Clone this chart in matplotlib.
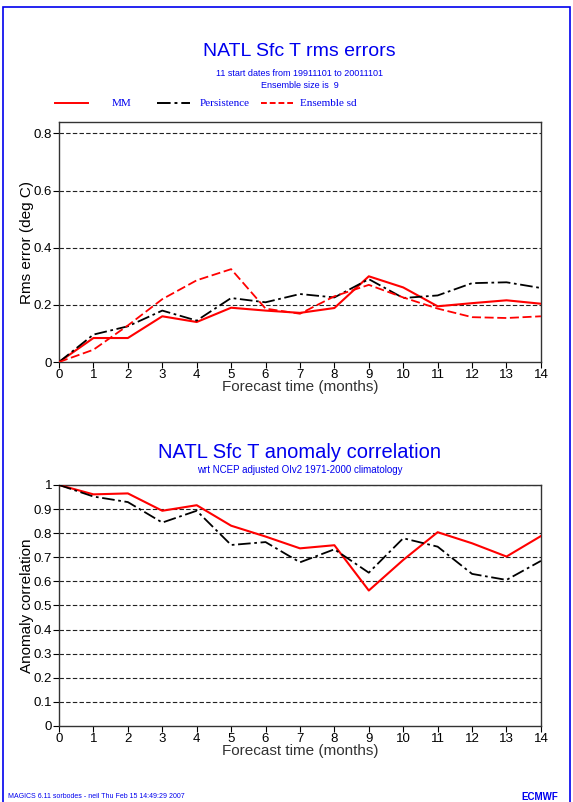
import matplotlib

matplotlib.use("Agg")
import matplotlib.pyplot as plt
from matplotlib.patches import Rectangle

plt.rcParams["font.family"] = ["Liberation Sans", "DejaVu Sans"]

# forecast lead (months)
LEAD = list(range(15))

# rms errors (deg C)
RMS_MM = [0.0, 0.084, 0.084, 0.160, 0.140, 0.190, 0.180, 0.172, 0.189, 0.300,
          0.261, 0.195, 0.206, 0.216, 0.204]
RMS_PERS = [0.0, 0.096, 0.125, 0.180, 0.145, 0.224, 0.209, 0.238, 0.226, 0.290,
            0.224, 0.233, 0.276, 0.279, 0.259]
RMS_ENSSD = [0.0, 0.043, 0.128, 0.220, 0.286, 0.325, 0.187, 0.169, 0.230, 0.270,
             0.226, 0.187, 0.157, 0.154, 0.160]

# anomaly correlation
ACC_MM = [1.0, 0.961, 0.965, 0.893, 0.916, 0.831, 0.786, 0.737, 0.750, 0.562,
          0.689, 0.804, 0.758, 0.703, 0.788]
ACC_PERS = [1.0, 0.952, 0.929, 0.844, 0.893, 0.751, 0.763, 0.679, 0.733, 0.636,
            0.779, 0.744, 0.631, 0.606, 0.685]

RMS_YTICKS = [0, 0.2, 0.4, 0.6, 0.8]
RMS_YLABELS = ["0", "0.2", "0.4", "0.6", "0.8"]
ACC_YTICKS = [0, 0.1, 0.2, 0.3, 0.4, 0.5, 0.6, 0.7, 0.8, 0.9, 1.0]
ACC_YLABELS = ["0", "0.1", "0.2", "0.3", "0.4", "0.5", "0.6", "0.7", "0.8", "0.9", "1"]

BLUE = "#0000ee"
RED = "#ff0000"
PERS_DASH = (0, (7, 2, 1.5, 2))


def style(ax, yticks, ylabels, ylim, ylabel):
    ax.set_xlim(0, 14)
    ax.set_ylim(*ylim)
    ax.set_xticks(LEAD)
    ax.set_yticks(yticks)
    ax.set_yticklabels(ylabels)
    for y in yticks[1:]:
        ax.axhline(y, color="#222222", lw=0.8, ls=(0, (4, 2)), zorder=1)
    ax.tick_params(direction="out", length=4, width=0.8, labelsize=9.5, pad=1,
                   colors="black")
    for sp in ax.spines.values():
        sp.set_linewidth(1.0)
        sp.set_color("#333333")
    ax.set_xlabel("Forecast time (months)", fontsize=11, color="#333333", labelpad=-1)
    ax.set_ylabel(ylabel, fontsize=11, color="black", labelpad=0)


fig = plt.figure(figsize=(5.73, 8.02), dpi=100)
fig.patches.append(Rectangle((3 / 573, -0.1), 567 / 573, 1 - 7 / 802 + 0.1,
                             transform=fig.transFigure, fill=False,
                             edgecolor=BLUE, lw=1.2))

# --- rms errors ------------------------------------------------------------
ax1 = fig.add_axes([0.103, 0.5486, 0.841, 0.2993])
ax1.plot(LEAD, RMS_MM, color=RED, lw=1.5, zorder=3)
ax1.plot(LEAD, RMS_PERS, color="black", lw=1.3, ls=PERS_DASH, zorder=3)
ax1.plot(LEAD, RMS_ENSSD, color=RED, lw=1.3, ls=(0, (5, 2)), zorder=3)
style(ax1, RMS_YTICKS, RMS_YLABELS, (0, 0.84), "Rms error (deg C)")

fig.text(0.523, 1 - 52 / 802, "NATL Sfc T rms errors", color=BLUE, fontsize=14,
         ha="center", va="center")
fig.text(0.523, 1 - 73 / 802, "11 start dates from 19911101 to 20011101",
         color=BLUE, fontsize=6.5, ha="center", va="center")
fig.text(0.523, 1 - 85 / 802, "Ensemble size is  9", color=BLUE, fontsize=6.5,
         ha="center", va="center")

# legend row
ly = 1 - 103 / 802
legend_items = [
    (55, 88, RED, "-", "MM", 112),
    (157, 190, "black", PERS_DASH, "Persistence", 200),
    (261, 293, RED, (0, (3, 1.5)), "Ensemble sd", 300),
]
for x0, x1, col, ls, lab, xt in legend_items:
    fig.add_artist(plt.Line2D([x0 / 573, x1 / 573], [ly, ly], color=col, lw=1.4, ls=ls,
                              transform=fig.transFigure))
    fig.text(xt / 573, ly, lab, color=BLUE, fontsize=8, ha="left", va="center",
             family="Liberation Serif")

# --- anomaly correlation ---------------------------------------------------
ax2 = fig.add_axes([0.103, 0.0948, 0.841, 0.3005])
ax2.plot(LEAD, ACC_MM, color=RED, lw=1.5, zorder=3)
ax2.plot(LEAD, ACC_PERS, color="black", lw=1.3, ls=PERS_DASH, zorder=3)
style(ax2, ACC_YTICKS, ACC_YLABELS, (0, 1.0), "Anomaly correlation")

fig.text(0.523, 1 - 452 / 802, "NATL Sfc T anomaly correlation", color=BLUE,
         fontsize=14.5, ha="center", va="center")
fig.text(0.523, 1 - 470 / 802, "wrt NCEP adjusted OIv2 1971-2000 climatology",
         color=BLUE, fontsize=7, ha="center", va="center")

# footer
fig.text(8 / 573, 1 - 797 / 802, "MAGICS 6.11 sorbodes - neil Thu Feb 15 14:49:29 2007",
         color=BLUE, fontsize=5, ha="left", va="center")
fig.text(540 / 573, 1 - 797 / 802, "ECMWF", color=BLUE, fontsize=7, fontweight="bold",
         ha="center", va="center")

fig.savefig("out.png", dpi=100)
